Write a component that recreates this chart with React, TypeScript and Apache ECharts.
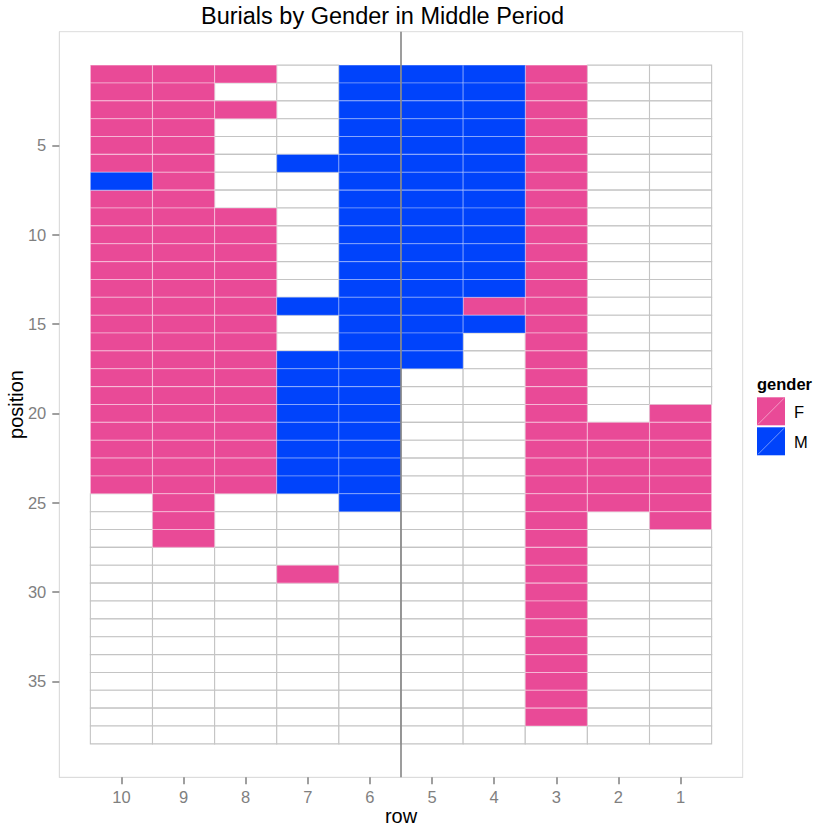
import React, { useEffect, useRef } from "react";
import * as echarts from "echarts";

// ---- data ----
const rowLabels = [10, 9, 8, 7, 6, 5, 4, 3, 2, 1];
const positionTicks = [5, 10, 15, 20, 25, 30, 35];
// one string per burial row, positions 1..38 top to bottom ("F", "M", "." = empty)
const row10 = "FFFFF FMFFF FFFFF FFFFF FFFF. ..... ..... ...";
const row9 = "FFFFF FFFFF FFFFF FFFFF FFFFF FF... ..... ...";
const row8 = "F.F.. ...FF FFFFF FFFFF FFFF. ..... ..... ...";
const row7 = "..... M.... ...M. .MMMM MMMM. ...F. ..... ...";
const row6 = "MMMMM MMMMM MMMMM MMMMM MMMMM ..... ..... ...";
const row5 = "MMMMM MMMMM MMMMM MM... ..... ..... ..... ...";
const row4 = "MMMMM MMMMM MMMFM ..... ..... ..... ..... ...";
const row3 = "FFFFF FFFFF FFFFF FFFFF FFFFF FFFFF FFFFF FF.";
const row2 = "..... ..... ..... ..... FFFFF ..... ..... ...";
const row1 = "..... ..... ..... ....F FFFFF F.... ..... ...";
const rowStrings: [number, string][] = [
  [10, row10], [9, row9], [8, row8], [7, row7], [6, row6],
  [5, row5], [4, row4], [3, row3], [2, row2], [1, row1],
];
const dividerRow = 5.5;

const PINK = "#E94A97";
const BLUE = "#0043FB";
const FONT = "'Liberation Sans', Arial, Helvetica, sans-serif";

function cells(code: string): number[][] {
  const out: number[][] = [];
  rowStrings.forEach(([row, s]) => {
    const chars = s.replace(/ /g, "").split("");
    chars.forEach((c, i) => {
      if (c === code) out.push([row, i + 1]);
    });
  });
  return out;
}

const Y_MIN = -1.37;
const Y_MAX = 40.37;

function tileSeries(name: string, code: string, fill: string, stroke: string, z: number) {
  return {
    type: "custom",
    name,
    z,
    data: cells(code),
    renderItem: (params: any, api: any) => {
      const c = api.coord([api.value(0), api.value(1)]);
      const s = api.size([1, 1]);
      return {
        type: "rect",
        shape: { x: c[0] - s[0] / 2, y: c[1] - s[1] / 2, width: s[0], height: s[1] },
        style: { fill, stroke, lineWidth: 1.1 },
      };
    },
  };
}

export default function App() {
  const ref = useRef<HTMLDivElement>(null);
  useEffect(() => {
    if (!ref.current) return;
    const chart = echarts.init(ref.current, null, { renderer: "svg" });
    const legendX = 757;
    chart.setOption({
      animation: false,
      backgroundColor: "#ffffff",
      grid: {
        left: 59.3,
        right: 74.3,
        top: 31.7,
        bottom: 49.7,
        show: true,
        borderColor: "#dcdcdc",
        borderWidth: 1,
        backgroundColor: "#ffffff",
      },
      xAxis: {
        type: "value",
        position: "bottom",
        min: 0,
        max: 11,
        inverse: true,
        axisLine: { show: true, onZero: false, lineStyle: { color: "#dcdcdc", width: 1 } },
        splitLine: { show: false },
        axisTick: {
          show: true,
          inside: false,
          length: 7,
          lineStyle: { color: "#7f7f7f", width: 1.5 },
          customValues: rowLabels,
        },
        axisLabel: {
          color: "#7f7f7f",
          fontSize: 16.5,
          fontFamily: FONT,
          margin: 11,
          customValues: rowLabels,
        },
      },
      yAxis: {
        type: "value",
        position: "left",
        min: Y_MIN,
        max: Y_MAX,
        inverse: true,
        axisLine: { show: true, onZero: false, lineStyle: { color: "#dcdcdc", width: 1 } },
        splitLine: { show: false },
        axisTick: {
          show: true,
          inside: false,
          length: 7,
          lineStyle: { color: "#7f7f7f", width: 1.5 },
          customValues: positionTicks,
        },
        axisLabel: {
          color: "#7f7f7f",
          fontSize: 16.5,
          fontFamily: FONT,
          margin: 13,
          customValues: positionTicks,
        },
      },
      series: [
        tileSeries("empty", ".", "#ffffff", "#c4c4c4", 2),
        tileSeries("F", "F", PINK, "rgba(255,255,255,0.38)", 3),
        tileSeries("M", "M", BLUE, "rgba(255,255,255,0.3)", 3),
        {
          type: "line",
          z: 5,
          symbol: "none",
          silent: true,
          data: [[dividerRow, Y_MIN], [dividerRow, Y_MAX]],
          lineStyle: { color: "#858585", width: 1.6 },
        },
      ],
      graphic: [
        {
          type: "text",
          left: 385 - 184,
          top: 4,
          style: {
            text: "Burials by Gender in Middle Period",
            fontSize: 23.5,
            fontFamily: FONT,
            fill: "#000000",
          },
        },
        {
          type: "text",
          x: 401,
          y: 816,
          style: {
            text: "row",
            fontSize: 20,
            fontFamily: FONT,
            fill: "#000000",
            align: "center",
            verticalAlign: "middle",
          },
        },
        {
          type: "text",
          x: 16,
          y: 404.5,
          rotation: Math.PI / 2,
          style: {
            text: "position",
            fontSize: 20,
            fontFamily: FONT,
            fill: "#000000",
            align: "center",
            verticalAlign: "middle",
          },
        },
        {
          type: "text",
          x: legendX,
          y: 384,
          style: {
            text: "gender",
            fontSize: 16.5,
            fontWeight: "bold",
            fontFamily: FONT,
            fill: "#000000",
            verticalAlign: "middle",
          },
        },
        { type: "rect", shape: { x: legendX, y: 397.3, width: 28, height: 28 }, style: { fill: PINK } },
        { type: "line", shape: { x1: legendX + 1, y1: 424.3, x2: legendX + 27, y2: 398.3 }, style: { stroke: "rgba(255,255,255,0.45)", lineWidth: 1 } },
        { type: "rect", shape: { x: legendX, y: 427.3, width: 28, height: 28 }, style: { fill: BLUE } },
        { type: "line", shape: { x1: legendX + 1, y1: 454.3, x2: legendX + 27, y2: 428.3 }, style: { stroke: "rgba(255,255,255,0.45)", lineWidth: 1 } },
        {
          type: "text",
          x: 794,
          y: 411.5,
          style: { text: "F", fontSize: 16.5, fontFamily: FONT, fill: "#000000", verticalAlign: "middle" },
        },
        {
          type: "text",
          x: 794,
          y: 441.5,
          style: { text: "M", fontSize: 16.5, fontFamily: FONT, fill: "#000000", verticalAlign: "middle" },
        },
      ],
    });
    return () => chart.dispose();
  }, []);
  return (
    <div
      ref={ref}
      style={{ position: "fixed", left: 0, top: 0, width: "817px", height: "827px" }}
    />
  );
}
